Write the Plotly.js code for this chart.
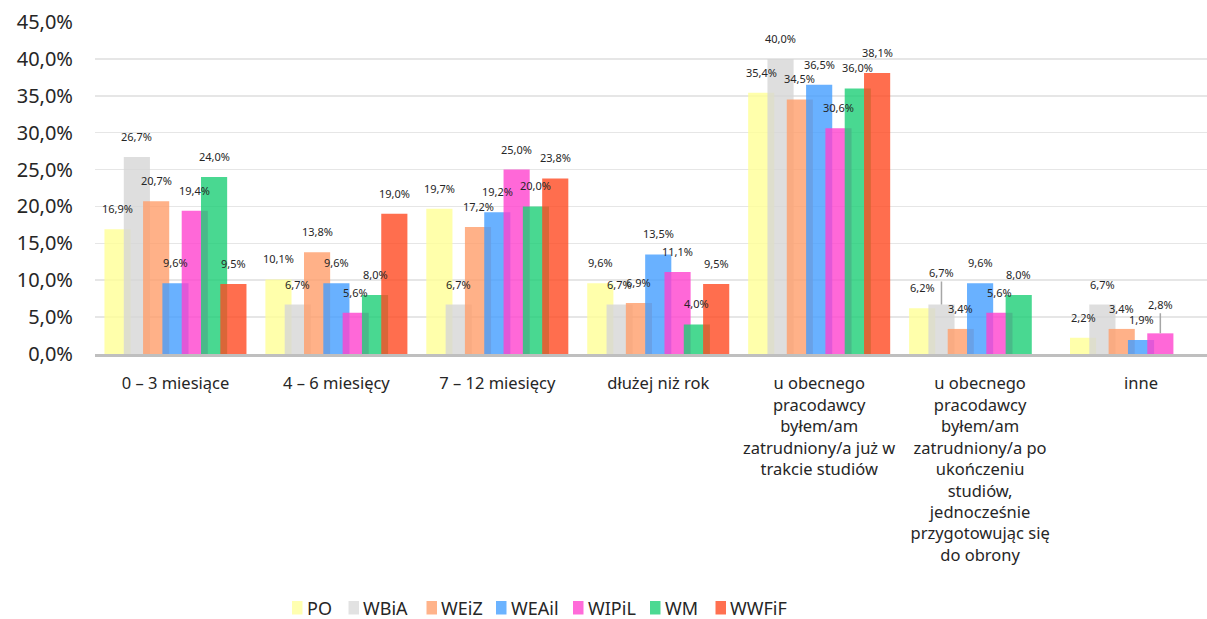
<!DOCTYPE html>
<html>
<head>
<meta charset="utf-8">
<script src="https://cdn.plot.ly/plotly-3.0.1.min.js"></script>
<style>html,body{margin:0;padding:0;background:#fff;}#chart{width:1207px;height:619px;}</style>
</head>
<body>
<div id="chart"></div>
<script>
const categories = [
  "0 – 3 miesiące",
  "4 – 6 miesięcy",
  "7 – 12 miesięcy",
  "dłużej niż rok",
  "u obecnego<br>pracodawcy<br>byłem/am<br>zatrudniony/a już w<br>trakcie studiów",
  "u obecnego<br>pracodawcy<br>byłem/am<br>zatrudniony/a po<br>ukończeniu<br>studiów,<br>jednocześnie<br>przygotowując się<br>do obrony",
  "inne"
];
const PO    = [16.9, 10.1, 19.7,  9.6, 35.4, 6.2, 2.2];
const WBiA  = [26.7,  6.7,  6.7,  6.7, 40.0, 6.7, 6.7];
const WEiZ  = [20.7, 13.8, 17.2,  6.9, 34.5, 3.4, 3.4];
const WEAiI = [ 9.6,  9.6, 19.2, 13.5, 36.5, 9.6, 1.9];
const WIPiL = [19.4,  5.6, 25.0, 11.1, 30.6, 5.6, 2.8];
const WM    = [24.0,  8.0, 20.0,  4.0, 36.0, 8.0, null];
const WWFiF = [ 9.5, 19.0, 23.8,  9.5, 38.1, null, null];
const yTicks = [0, 5, 10, 15, 20, 25, 30, 35, 40, 45];
const legendLabels = ["PO", "WBiA", "WEiZ", "WEAil", "WIPiL", "WM", "WWFiF"];

const seriesValues = [PO, WBiA, WEiZ, WEAiI, WIPiL, WM, WWFiF];
const colors = [
  "rgba(255,255,150,0.8)",
  "rgba(214,214,214,0.8)",
  "rgba(255,158,106,0.8)",
  "rgba(68,158,255,0.8)",
  "rgba(255,66,206,0.8)",
  "rgba(28,206,118,0.8)",
  "rgba(255,74,34,0.8)"
];
const legendColors = ["#FFFFB0", "#E2E2E2", "#FFB38A", "#6BB3FF", "#FF6BD9", "#4CD992", "#FF7050"];
// legend square left edges in pixels (layout only)
const legendPx = [292, 348.5, 426.5, 496, 573, 650, 715.5];
// leader-line labels: seriesIndex_categoryIndex -> pixel offset
const leader = {"1_5": -32, "4_6": -29};

const L = 95, R = 1207, T = 22, B = 354;
const px2x = p => (p - L) / (R - L);
const px2y = p => (B - p) / (B - T);

const step = 0.12, barW = 0.1625;
const xIdx = categories.map((_, i) => i);
const fmt = v => v.toFixed(1).replace('.', ',') + '%';

const traces = seriesValues.map((vals, s) => ({
  type: 'bar',
  name: legendLabels[s],
  x: xIdx,
  y: vals,
  width: barW,
  offset: (s - 3) * step - barW / 2,
  marker: {color: colors[s], line: {width: 0}},
  hoverinfo: 'skip',
  showlegend: false
}));

const labelFont = {family: 'Noto Sans, sans-serif', size: 11, color: '#262626'};
const annotations = [];
seriesValues.forEach((vals, s) => {
  vals.forEach((v, i) => {
    if (v === null) return;
    const xc = i + (s - 3) * step;
    const key = s + "_" + i;
    if (leader[key] !== undefined) {
      annotations.push({
        x: xc, y: v, xref: 'x', yref: 'y', text: fmt(v),
        showarrow: true, arrowhead: 0, arrowwidth: 1.5, arrowcolor: '#A6A6A6',
        ax: 0, ay: leader[key], standoff: 0, font: labelFont
      });
    } else {
      annotations.push({
        x: xc, y: v, xref: 'x', yref: 'y', text: fmt(v),
        showarrow: false, yanchor: 'bottom', yshift: 11, font: labelFont
      });
    }
  });
});

const shapes = [];
const legendY = 607.5;
legendLabels.forEach((name, s) => {
  const x0 = legendPx[s];
  shapes.push({
    type: 'rect', xref: 'paper', yref: 'paper',
    x0: px2x(x0), x1: px2x(x0 + 10.5),
    y0: px2y(legendY + 7), y1: px2y(legendY - 6.5),
    fillcolor: legendColors[s], line: {width: 0}
  });
  annotations.push({
    xref: 'paper', yref: 'paper', x: px2x(x0 + 13.5), y: px2y(legendY),
    xanchor: 'left', yanchor: 'middle', showarrow: false, borderpad: 0,
    text: name, font: {family: 'Noto Sans, sans-serif', size: 18, color: '#262626'}
  });
});

const layout = {
  width: 1207, height: 619,
  margin: {l: L, r: 1207 - R, t: T, b: 619 - B},
  paper_bgcolor: '#ffffff', plot_bgcolor: '#ffffff',
  barmode: 'overlay',
  separators: ', ',
  font: {family: 'Noto Sans, sans-serif', color: '#262626'},
  xaxis: {
    type: 'linear',
    range: [-0.5, 6.41],
    tickvals: xIdx,
    ticktext: categories,
    tickfont: {size: 16.5, color: '#262626'},
    showgrid: false, zeroline: false,
    showline: true, linecolor: '#BFBFBF', linewidth: 2.5,
    ticks: '', ticklabelstandoff: 13
  },
  yaxis: {
    range: [0, 45],
    tickvals: yTicks,
    ticktext: yTicks.map(fmt),
    tickfont: {size: 20, color: '#262626'},
    showgrid: true, gridcolor: '#E6E6E6', gridwidth: 1.5,
    zeroline: false, showline: false,
    ticks: '', ticklabelstandoff: 21
  },
  showlegend: false,
  shapes: shapes,
  annotations: annotations
};

Plotly.newPlot('chart', traces, layout, {displayModeBar: false, staticPlot: true});
</script>
</body>
</html>
